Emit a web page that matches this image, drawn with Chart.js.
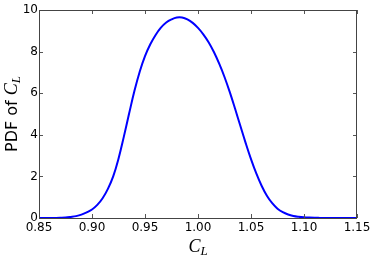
<!DOCTYPE html>
<html>
<head>
<meta charset="utf-8">
<script src="https://cdn.jsdelivr.net/npm/chart.js@4"></script>
<style>
  body { margin: 0; background: #fff; }
  #wrap { width: 374px; height: 260px; position: relative; }
</style>
</head>
<body>
<div id="wrap"><canvas id="grafico"></canvas></div>
<script>
// valores (CL e densidade)
const valoresCL = [
  0.850, 0.855, 0.860, 0.865, 0.870, 0.875, 0.880, 0.885, 0.890, 0.895,
  0.900, 0.905, 0.910, 0.915, 0.920, 0.925, 0.930, 0.935, 0.940, 0.945,
  0.950, 0.955, 0.960, 0.965, 0.970, 0.975, 0.980, 0.985, 0.990, 0.995,
  1.000, 1.005, 1.010, 1.015, 1.020, 1.025, 1.030, 1.035, 1.040, 1.045,
  1.050, 1.055, 1.060, 1.065, 1.070, 1.075, 1.080, 1.085, 1.090, 1.095,
  1.100, 1.105, 1.110, 1.115, 1.120, 1.125, 1.130, 1.135, 1.140, 1.145,
  1.150
];
const valoresPDF = [
  0, 0, 0.002, 0.005, 0.01, 0.02, 0.05, 0.09, 0.16, 0.27,
  0.41, 0.63, 0.95, 1.40, 2.00, 2.85, 3.90, 5.02, 6.10, 7.03,
  7.78, 8.35, 8.80, 9.15, 9.40, 9.55, 9.64, 9.64, 9.55, 9.38,
  9.14, 8.83, 8.45, 7.98, 7.42, 6.78, 6.05, 5.25, 4.42, 3.60,
  2.83, 2.14, 1.55, 1.07, 0.71, 0.45, 0.28, 0.17, 0.10, 0.06,
  0.035, 0.02, 0.01, 0.006, 0.003, 0.001, 0, 0, 0, 0,
  0
];
const ticksX = [0.85, 0.90, 0.95, 1.00, 1.05, 1.10, 1.15];
const ticksY = [0, 2, 4, 6, 8, 10];

const pontos = valoresCL.map((x, i) => ({ x: x, y: valoresPDF[i] }));

// moldura, ticks internos e titulos dos eixos
const molduraPlugin = {
  id: 'moldura',
  afterDraw(chart) {
    const ctx = chart.ctx;
    const a = chart.chartArea;
    const sx = chart.scales.x;
    const sy = chart.scales.y;
    ctx.save();
    ctx.strokeStyle = '#555';
    ctx.lineWidth = 1;
    ctx.beginPath();
    ticksX.forEach(v => {
      const px = Math.round(sx.getPixelForValue(v)) + 0.5;
      ctx.moveTo(px, a.bottom); ctx.lineTo(px, a.bottom - 4);
      ctx.moveTo(px, a.top); ctx.lineTo(px, a.top + 4);
    });
    ticksY.forEach(v => {
      const py = Math.round(sy.getPixelForValue(v)) + 0.5;
      ctx.moveTo(a.left, py); ctx.lineTo(a.left + 4, py);
      ctx.moveTo(a.right, py); ctx.lineTo(a.right - 4, py);
    });
    ctx.stroke();
    ctx.strokeStyle = '#444';
    ctx.strokeRect(Math.round(a.left) + 0.5, Math.round(a.top) + 0.5,
      Math.round(a.right - a.left) - 1, Math.round(a.bottom - a.top));

    // titulo do eixo Y: "PDF of C_L"
    ctx.fillStyle = '#000';
    ctx.textBaseline = 'alphabetic';
    ctx.textAlign = 'left';
    const fonteTexto = '16px "DejaVu Sans"';
    const fonteC = 'italic 18px "Liberation Serif"';
    const fonteL = 'italic 13px "Liberation Serif"';
    ctx.font = fonteTexto; const w1 = ctx.measureText('PDF of ').width;
    ctx.font = fonteC; const w2 = ctx.measureText('C').width;
    ctx.font = fonteL; const w3 = ctx.measureText('L').width;
    const total = w1 + w2 + w3;
    ctx.save();
    ctx.translate(17, (a.top + a.bottom) / 2);
    ctx.rotate(-Math.PI / 2);
    let x0 = -total / 2;
    ctx.font = fonteTexto; ctx.fillText('PDF of ', x0, 0);
    x0 += w1;
    ctx.font = fonteC; ctx.fillText('C', x0, 0);
    x0 += w2;
    ctx.font = fonteL; ctx.fillText('L', x0, 3);
    ctx.restore();

    // titulo do eixo X: "C_L"
    const cx = (a.left + a.right) / 2;
    const tx = w2 + w3;
    ctx.font = fonteC; ctx.fillText('C', cx - tx / 2, 252);
    ctx.font = fonteL; ctx.fillText('L', cx - tx / 2 + w2, 255);
    ctx.restore();
  }
};

new Chart(document.getElementById('grafico'), {
  type: 'line',
  data: {
    datasets: [{
      data: pontos,
      borderColor: '#0000ff',
      borderWidth: 2,
      pointRadius: 0,
      fill: false,
      tension: 0.4
    }]
  },
  options: {
    responsive: true,
    maintainAspectRatio: false,
    animation: false,
    layout: { padding: { top: 10, right: 17, left: 0, bottom: 0 } },
    plugins: { legend: { display: false }, tooltip: { enabled: false } },
    scales: {
      x: {
        type: 'linear',
        min: 0.85,
        max: 1.15,
        afterFit: s => { s.height = 42; },
        afterBuildTicks: s => { s.ticks = ticksX.map(v => ({ value: v })); },
        grid: { display: false, drawTicks: false },
        border: { display: false },
        ticks: {
          padding: 3,
          color: '#000',
          font: { family: 'DejaVu Sans', size: 12 },
          maxRotation: 0,
          callback: v => v.toFixed(2)
        }
      },
      y: {
        min: 0,
        max: 10,
        afterFit: s => { s.width = 39; },
        afterBuildTicks: s => { s.ticks = ticksY.map(v => ({ value: v })); },
        grid: { display: false, drawTicks: false },
        border: { display: false },
        ticks: {
          padding: 1,
          color: '#000',
          font: { family: 'DejaVu Sans', size: 12 }
        }
      }
    }
  },
  plugins: [molduraPlugin]
});
</script>
</body>
</html>
